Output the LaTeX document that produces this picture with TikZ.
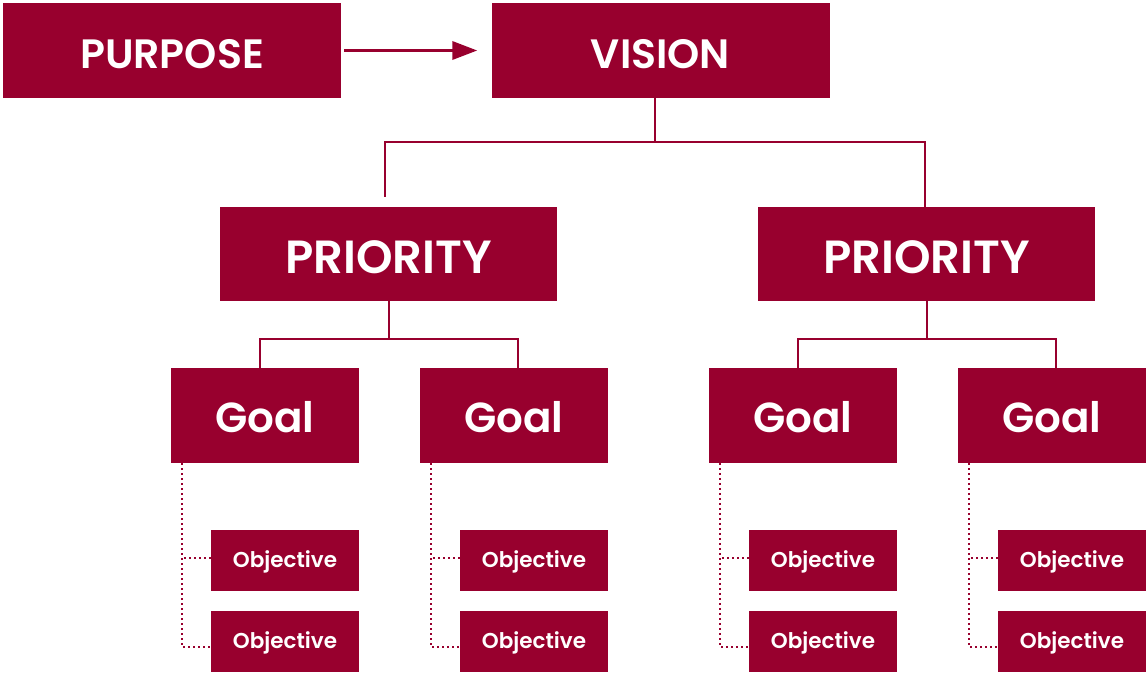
\documentclass[tikz,border=0pt]{standalone}
\usepackage{fontspec}
\setmainfont{Poppins}[BoldFont={* SemiBold}]
\usepackage{xcolor}
\usetikzlibrary{arrows.meta, positioning}
\definecolor{crimson}{HTML}{98002E}

\begin{document}
\begin{tikzpicture}[
  x=1pt, y=-1pt,
  box/.style={fill=crimson, text=white, inner sep=0pt, text depth=0pt},
  topbox/.style={box, minimum width=338pt, minimum height=95pt, text height=35pt, font=\fontsize{41}{41}\selectfont\bfseries},
  priobox/.style={box, minimum width=337pt, minimum height=94pt, text height=38pt, font=\fontsize{46.5}{46.5}\selectfont\bfseries},
  goalbox/.style={box, minimum width=188pt, minimum height=95pt, text height=33pt, font=\fontsize{42}{42}\selectfont\bfseries},
  objbox/.style={box, minimum width=148pt, minimum height=61pt, text height=13pt, font=\fontsize{21.5}{21.5}\selectfont\bfseries},
  link/.style={draw=crimson, line width=2pt},
  dotlink/.style={draw=crimson, line width=2pt, dash pattern=on 2pt off 3pt},
  arr/.style={-{Triangle[length=25pt, width=18pt]}, draw=crimson, line width=3.5pt}
]
\useasboundingbox (0,0) rectangle (1146,673);

\node[topbox] (purpose) at (172,50.5) {PURPOSE};
\node[topbox] (vision) at (660.5,50.5) {VISION};
\node[priobox] (prio1) at (388.5,254) {PRIORITY};
\node[priobox] (prio2) at (926.5,254) {PRIORITY};

\node[goalbox] (g1) at (265,415.5) {Goal};
\node[goalbox] (g2) at (514,415.5) {Goal};
\node[goalbox] (g3) at (803,415.5) {Goal};
\node[goalbox] (g4) at (1052,415.5) {Goal};

\node[objbox] (o11) at (285,560.5) {Objective};
\node[objbox] (o12) at (285,641.5) {Objective};
\node[objbox] (o21) at (534,560.5) {Objective};
\node[objbox] (o22) at (534,641.5) {Objective};
\node[objbox] (o31) at (823,560.5) {Objective};
\node[objbox] (o32) at (823,641.5) {Objective};
\node[objbox] (o41) at (1072,560.5) {Objective};
\node[objbox] (o42) at (1072,641.5) {Objective};

% purpose to vision
\draw[arr, shorten <=3pt, shorten >=14pt] (purpose) -- (vision);

% vision to priorities
\coordinate (vbar) at (655,142);
\draw[link] (vision.south -| vbar) -- (vbar) -| ([xshift=-4pt, yshift=10pt]prio1.north);
\draw[link] (vbar) -| ([xshift=-1.5pt]prio2.north);

% priorities to goals
\coordinate (pbar1) at (389,339);
\draw[link] (prio1.south -| pbar1) -- (pbar1) -| ([xshift=-5pt]g1.north);
\draw[link] (pbar1) -| ([xshift=4pt]g2.north);
\coordinate (pbar2) at (927,339);
\draw[link] (prio2.south -| pbar2) -- (pbar2) -| ([xshift=-5pt]g3.north);
\draw[link] (pbar2) -| ([xshift=4pt]g4.north);

% goals to objectives
\coordinate (d1) at ([xshift=11pt]g1.south west);
\draw[dotlink] (d1) |- ([yshift=-5.5pt]o12.west);
\draw[dotlink] ([yshift=2.5pt]o11.west) -- ([yshift=2.5pt]o11.west -| d1);
\coordinate (d2) at ([xshift=11pt]g2.south west);
\draw[dotlink] (d2) |- ([yshift=-5.5pt]o22.west);
\draw[dotlink] ([yshift=2.5pt]o21.west) -- ([yshift=2.5pt]o21.west -| d2);
\coordinate (d3) at ([xshift=11pt]g3.south west);
\draw[dotlink] (d3) |- ([yshift=-5.5pt]o32.west);
\draw[dotlink] ([yshift=2.5pt]o31.west) -- ([yshift=2.5pt]o31.west -| d3);
\coordinate (d4) at ([xshift=11pt]g4.south west);
\draw[dotlink] (d4) |- ([yshift=-5.5pt]o42.west);
\draw[dotlink] ([yshift=2.5pt]o41.west) -- ([yshift=2.5pt]o41.west -| d4);
\end{tikzpicture}
\end{document}
